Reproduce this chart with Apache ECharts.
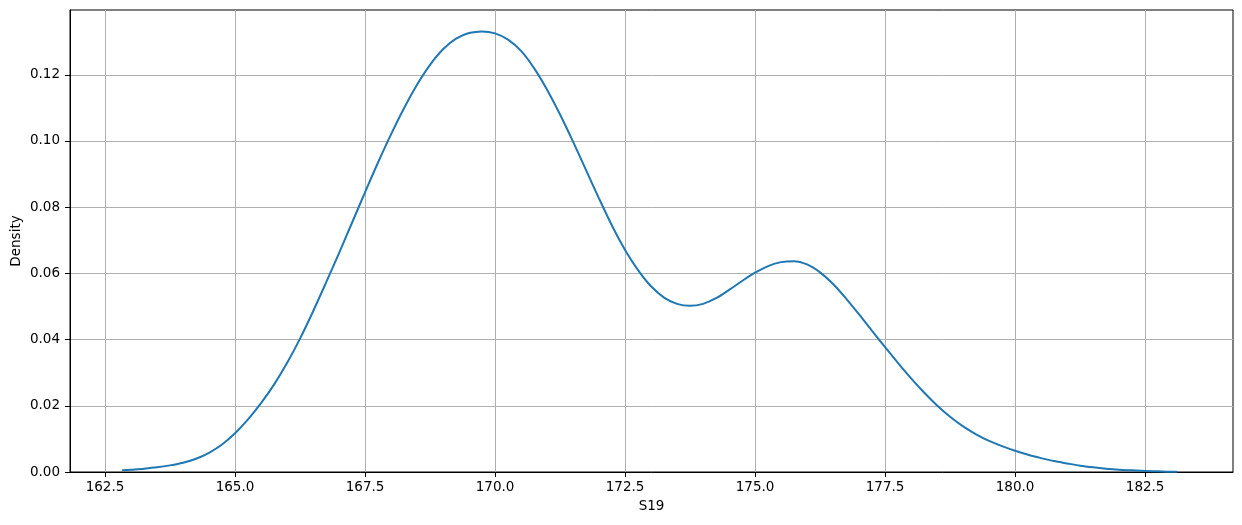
<!DOCTYPE html>
<html>
<head>
<meta charset="utf-8">
<script src="https://cdn.jsdelivr.net/npm/echarts@6/dist/echarts.min.js"></script>
<style>html,body{margin:0;padding:0;background:#fff;}#c{width:1242px;height:525px;}</style>
</head>
<body>
<div id="c"></div>
<script>
const xValues = [162.83,163.0,163.25,163.5,163.75,164.0,164.25,164.5,164.75,165.0,165.25,165.5,165.75,166.0,166.25,166.5,166.75,167.0,167.25,167.5,167.75,168.0,168.25,168.5,168.75,169.0,169.25,169.5,169.75,170.0,170.25,170.5,170.75,171.0,171.25,171.5,171.75,172.0,172.25,172.5,172.75,173.0,173.25,173.5,173.75,174.0,174.25,174.5,174.75,175.0,175.25,175.5,175.75,176.0,176.25,176.5,176.75,177.0,177.25,177.5,177.75,178.0,178.25,178.5,178.75,179.0,179.25,179.5,179.75,180.0,180.25,180.5,180.75,181.0,181.25,181.5,181.75,182.0,182.25,182.5,182.75,183.0,183.12];
const density = [0.0005,0.0007,0.0010,0.0014,0.0020,0.0028,0.0040,0.0058,0.0083,0.0117,0.0159,0.0208,0.0264,0.0329,0.0403,0.0485,0.0572,0.0661,0.0753,0.0845,0.0935,0.1020,0.1099,0.1170,0.1230,0.1277,0.1309,0.1326,0.1331,0.1325,0.1306,0.1272,0.1220,0.1155,0.1080,0.0998,0.0912,0.0826,0.0744,0.0671,0.0610,0.0561,0.0527,0.0508,0.0502,0.0508,0.0525,0.0550,0.0577,0.0602,0.0622,0.0634,0.0637,0.0627,0.0603,0.0568,0.0524,0.0476,0.0426,0.0377,0.0329,0.0283,0.0240,0.0201,0.0167,0.0138,0.0114,0.0094,0.0078,0.0064,0.0052,0.0042,0.0033,0.0026,0.0019,0.0014,0.0010,0.0007,0.0005,0.0003,0.0002,0.0001,0.0001];
const xTicks = [162.5,165.0,167.5,170.0,172.5,175.0,177.5,180.0,182.5];
const yTicks = [0.00,0.02,0.04,0.06,0.08,0.10,0.12];
const xName = 'S19';
const yName = 'Density';

const chart = echarts.init(document.getElementById('c'), null, {renderer:'canvas'});
const font = 'DejaVu Sans';
chart.setOption({
  animation:false,
  backgroundColor:'#fff',
  grid:{left:70,right:9,top:10,bottom:53,containLabel:false,outerBoundsMode:'none',show:true,borderColor:'#000',borderWidth:1,backgroundColor:'transparent'},
  xAxis:{
    type:'value', min:161.827, max:184.19,
    name:xName, nameLocation:'middle', nameGap:27, nameMoveOverlap:false,
    nameTextStyle:{fontFamily:font,fontSize:13.5,color:'#000'},
    axisLine:{show:true,onZero:false,lineStyle:{color:'#000',width:1}},
    axisTick:{show:true,inside:false,length:5,lineStyle:{color:'#000',width:1},customValues:xTicks},
    axisLabel:{customValues:xTicks,fontFamily:font,fontSize:13.5,color:'#000',margin:8,formatter:v=>v.toFixed(1)},
    splitLine:{show:true,lineStyle:{color:'#b0b0b0',width:1}}
  },
  yAxis:{
    type:'value', min:0, max:0.13957,
    name:yName, nameLocation:'middle', nameGap:47, nameMoveOverlap:false,
    nameTextStyle:{fontFamily:font,fontSize:13.5,color:'#000'},
    axisLine:{show:true,lineStyle:{color:'#000',width:1}},
    axisTick:{show:true,inside:false,length:5,lineStyle:{color:'#000',width:1},customValues:yTicks},
    axisLabel:{customValues:yTicks,fontFamily:font,fontSize:13.5,color:'#000',margin:10,formatter:v=>v.toFixed(2)},
    splitLine:{show:true,lineStyle:{color:'#b0b0b0',width:1}}
  },
  series:[{
    type:'line', data:xValues.map((x,i)=>[x,density[i]]),
    smooth:0.3, showSymbol:false, symbol:'none',
    lineStyle:{color:'#1f77b4',width:2},
    clip:true
  }]
});
</script>
</body>
</html>
